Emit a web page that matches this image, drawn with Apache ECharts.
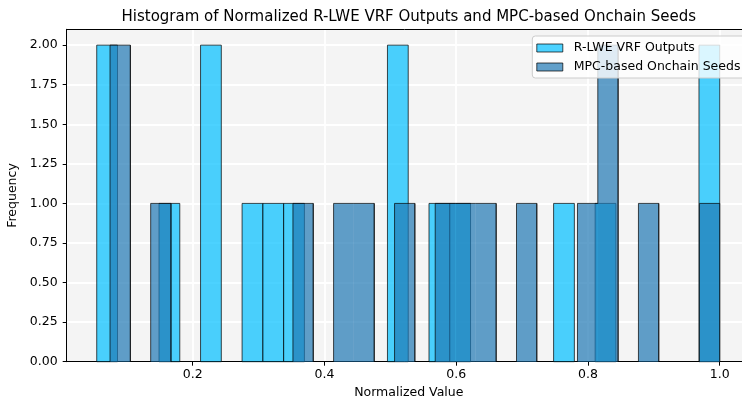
<!DOCTYPE html>
<html><head><meta charset="utf-8">
<script src="https://cdn.jsdelivr.net/npm/echarts@6/dist/echarts.min.js"></script>
<style>html,body{margin:0;padding:0;background:#fff}#c{width:742px;height:403px}</style>
</head><body><div id="c"></div>
<script>
// ---- data ----
const titleText = 'Histogram of Normalized R-LWE VRF Outputs and MPC-based Onchain Seeds';
const rlweName = 'R-LWE VRF Outputs';
const mpcName = 'MPC-based Onchain Seeds';
// histogram bin range [first edge, last edge] and counts per bin (30 bins each)
const rlweRange = [0.0543, 1.0];
const rlweCounts = [2,0,0,1,0,2,0,1,1,1,0,0,0,0,2,0,1,1,0,0,0,0,1,0,1,0,0,0,0,2];
const mpcRange = [0.0745, 1.0];
const mpcCounts = [2,0,1,0,0,0,0,0,0,1,0,1,1,0,1,0,1,1,1,0,1,0,0,1,2,0,1,0,0,1];
const xTicks = [0.2, 0.4, 0.6, 0.8, 1.0];
const yTicks = [0, 0.25, 0.5, 0.75, 1.0, 1.25, 1.5, 1.75, 2.0];

function toBins(range, counts) {
  const n = counts.length, w = (range[1] - range[0]) / n;
  return counts.map((c, i) => [range[0] + i * w, range[0] + (i + 1) * w, c, i]);
}
const rlweBins = toBins(rlweRange, rlweCounts);
const mpcBins = toBins(mpcRange, mpcCounts);

const cyanFill = 'rgba(0,191,255,0.7)';
const blueFill = 'rgba(31,119,180,0.7)';
const edge = 'rgba(0,0,0,0.7)';
const font = 'DejaVu Sans';
const fs = 12.5;

const chart = echarts.init(document.getElementById('c'), null, {renderer: 'canvas'});

function renderBar(params, api) {
  const c = api.value(2);
  if (!c) return null;
  const p0 = api.coord([api.value(0), c]);
  const p1 = api.coord([api.value(1), 0]);
  return {
    type: 'rect',
    shape: {x: p0[0], y: p0[1], width: p1[0] - p0[0], height: p1[1] - p0[1]},
    style: {fill: cyanFill, stroke: edge, lineWidth: 1}
  };
}
function renderStep(params, api) {
  const c = api.value(2);
  const i = api.value(3);
  const prev = i > 0 ? mpcCounts[i - 1] : 0;
  const next = i < mpcCounts.length - 1 ? mpcCounts[i + 1] : 0;
  const x0 = api.coord([api.value(0), 0])[0];
  const x1 = api.coord([api.value(1), 0])[0];
  const yc = api.coord([0, c])[1];
  const yp = api.coord([0, prev])[1];
  const yn = api.coord([0, next])[1];
  const children = [];
  if (c) {
    children.push({type: 'rect', shape: {x: x0, y: yc, width: x1 - x0, height: api.coord([0, 0])[1] - yc},
      style: {fill: blueFill}});
    children.push({type: 'line', shape: {x1: x0, y1: yc, x2: x1, y2: yc}, style: {stroke: edge, lineWidth: 1}});
  }
  if (prev !== c) {
    children.push({type: 'line', shape: {x1: x0, y1: yp, x2: x0, y2: yc}, style: {stroke: edge, lineWidth: 1}});
  }
  if (c && next === 0) {
    children.push({type: 'line', shape: {x1: x1, y1: yc, x2: x1, y2: yn}, style: {stroke: edge, lineWidth: 1}});
  }
  return {type: 'group', children: children};
}

const option = {
  animation: false,
  backgroundColor: '#ffffff',
  textStyle: {fontFamily: font},
  title: {
    text: titleText, left: 408.8, top: 10, padding: 0, textAlign: 'center',
    textStyle: {fontFamily: font, fontSize: 15, fontWeight: 'normal', color: '#000'}
  },
  legend: {
    orient: 'vertical', left: 532.3, top: 36, padding: [5, 6, 4, 4], itemGap: 5,
    itemWidth: 26, itemHeight: 8,
    backgroundColor: 'rgba(255,255,255,0.8)', borderColor: '#cccccc', borderWidth: 1, borderRadius: 3,
    textStyle: {fontFamily: font, fontSize: fs, lineHeight: 14, color: '#000', padding: [0, 0, 0, 6]},
    z: 10,
    data: [
      {name: rlweName, icon: 'rect', itemStyle: {color: cyanFill, borderColor: edge, borderWidth: 1}},
      {name: mpcName, icon: 'rect', itemStyle: {color: blueFill, borderColor: edge, borderWidth: 1}}
    ]
  },
  grid: {
    left: 66.7, top: 29.3, width: 684.2, height: 332.4,
    show: true, backgroundColor: '#f4f4f4', borderWidth: 0,
    containLabel: false, outerBoundsMode: 'none'
  },
  xAxis: [{
    type: 'value', min: 0.00873, max: 1.0473,
    name: 'Normalized Value', nameLocation: 'middle', nameGap: 25,
    nameTextStyle: {fontFamily: font, fontSize: fs, color: '#000'},
    axisLine: {show: true, lineStyle: {color: '#000', width: 1}},
    axisTick: {show: true, customValues: xTicks, length: 4, lineStyle: {color: '#000'}},
    axisLabel: {customValues: xTicks, formatter: v => v.toFixed(1), fontFamily: font, fontSize: fs, color: '#000', margin: 7},
    splitLine: {show: true, lineStyle: {color: '#ffffff', width: 1.8}}
  }, {
    type: 'value', position: 'top', min: 0.00873, max: 1.0473,
    axisLine: {show: true, lineStyle: {color: '#000', width: 1}},
    axisTick: {show: false}, axisLabel: {show: false}, splitLine: {show: false}
  }],
  yAxis: {
    type: 'value', min: 0, max: 2.1,
    name: 'Frequency', nameLocation: 'middle', nameGap: 39,
    nameTextStyle: {fontFamily: font, fontSize: fs, color: '#000'},
    axisLine: {show: true, lineStyle: {color: '#000', width: 1}},
    axisTick: {show: true, customValues: yTicks, length: 4, lineStyle: {color: '#000'}},
    axisLabel: {customValues: yTicks, formatter: v => v.toFixed(2), fontFamily: font, fontSize: fs, color: '#000', margin: 9},
    splitLine: {show: true, lineStyle: {color: '#ffffff', width: 1.8}}
  },
  series: [{
    name: rlweName, type: 'custom', xAxisIndex: 0, renderItem: renderBar,
    encode: {x: [0, 1], y: 2}, data: rlweBins, z: 2
  }, {
    name: mpcName, type: 'custom', xAxisIndex: 0, renderItem: renderStep,
    encode: {x: [0, 1], y: 2}, data: mpcBins, z: 3
  }]
};
chart.setOption(option);
</script></body></html>
